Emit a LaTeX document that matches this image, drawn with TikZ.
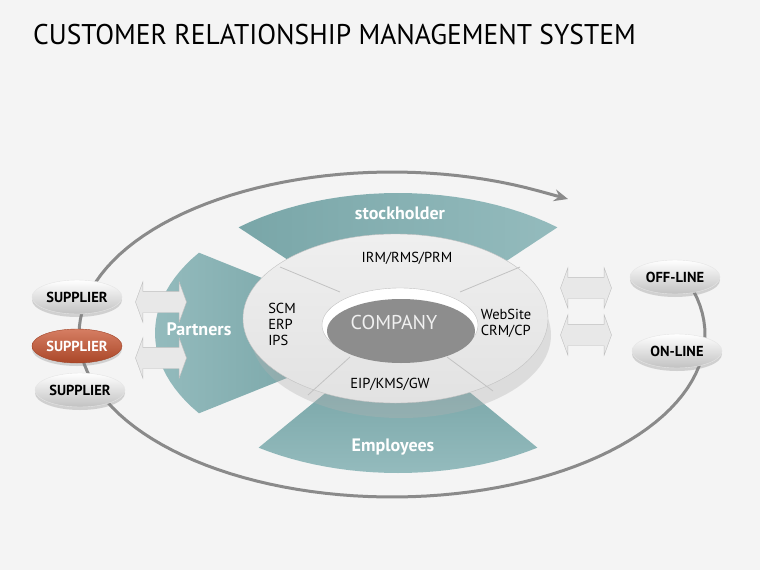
\documentclass[tikz,border=0pt]{standalone}
\usepackage{fontspec}
\setmainfont{PT Sans}
\newfontfamily\titlefont[FakeStretch=0.965]{PT Sans}
\usetikzlibrary{arrows.meta,positioning,shapes.geometric,shapes.arrows,shadows}
\definecolor{Paper}{HTML}{F4F4F4}
\definecolor{TealDark}{HTML}{79A6A8}
\definecolor{TealLight}{HTML}{94BBBD}
\definecolor{Ring}{HTML}{E2E2E2}
\definecolor{RingLine}{HTML}{C2C2C2}
\definecolor{Core}{HTML}{8D8D8D}
\definecolor{Loop}{HTML}{8A8A8A}
\definecolor{Rust}{HTML}{C8532F}

\begin{document}
\begin{tikzpicture}[x=1pt,y=-1pt,
pill/.style={ellipse,inner sep=0pt,minimum width=90pt,minimum height=34pt,top color=white,bottom color=black!24,draw=black!10,font=\bfseries\fontsize{14.5}{16}\selectfont,drop shadow={shadow xshift=0pt,shadow yshift=-3pt,opacity=.3}},
hot/.style={pill,top color=Rust!75!white,bottom color=Rust!85!black,draw=Rust!80!black,text=white},
dbl/.style={double arrow,draw=black!25,fill=black!9,minimum height=51pt,inner xsep=0pt,inner ysep=10.5pt,double arrow head extend=9.5pt,double arrow tip angle=140},
bandtxt/.style={text=white,font=\bfseries\fontsize{18}{20}\selectfont},
ringtxt/.style={font=\fontsize{14.5}{16}\selectfont,align=left,inner sep=0pt},
loop/.style={line width=3pt,draw=Loop,-{Stealth[length=14pt,width=12pt,inset=5pt]}}]
\useasboundingbox (0,0) rectangle (760,570);
\fill[Paper] (0,0) rectangle (760,570);
\node[anchor=base west,inner sep=0pt,font=\titlefont\fontsize{28.5}{30}\selectfont] (title) at (33,44) {CUSTOMER RELATIONSHIP MANAGEMENT SYSTEM};
\coordinate (loopend) at (568,199);
\draw[loop] plot[domain=-21:298,samples=120,variable=\t] ({392+313*cos(\t)},{334.5+162.5*sin(\t)}) -- (loopend);
\shade[left color=TealDark,right color=TealLight] plot[domain=-131:-49,variable=\t] ({398+243*cos(\t)},{333+140*sin(\t)}) -- plot[domain=-49:-131,variable=\t] ({398+100*cos(\t)},{333+58*sin(\t)}) -- cycle;
\shade[left color=TealLight,right color=TealDark] plot[domain=145:215,variable=\t] ({398+243*cos(\t)},{333+140*sin(\t)}) -- plot[domain=215:145,variable=\t] ({398+100*cos(\t)},{333+58*sin(\t)}) -- cycle;
\shade[top color=TealDark,bottom color=TealLight] plot[domain=55:125,variable=\t] ({398+243*cos(\t)},{333+140*sin(\t)}) -- plot[domain=125:55,variable=\t] ({398+100*cos(\t)},{333+58*sin(\t)}) -- cycle;
\fill[black!30,opacity=.35] (401,335) ellipse [x radius=150,y radius=83];
\shade[draw=RingLine,top color=Ring!55!white,bottom color=Ring] (395.5,318.5) ellipse [x radius=152.5,y radius=84.5];
\draw[RingLine,line width=.8pt] (280,267) -- (340,292) (460,292) -- (520,267) (350,357) -- (308,395) (447,357) -- (493,391);
\draw[fill=white,draw=RingLine] (400,325) ellipse [x radius=78,y radius=37];
\fill[Core] (401,331) ellipse [x radius=74,y radius=32];
\node[bandtxt] (stock) at (400,213) {stockholder};
\node[bandtxt] (partners) at (199,329) {Partners};
\node[bandtxt] (employees) at (393,447) {Employees};
\node[font=\fontsize{20}{22}\selectfont,text=black!6] (company) at (394,322) {COMPANY};
\node[ringtxt] (irm) at (407,258) {IRM/RMS/PRM};
\node[ringtxt] (scm) at (282,324) {SCM\\ERP\\IPS};
\node[ringtxt] (web) at (506,323) {WebSite\\CRM/CP};
\node[ringtxt] (eip) at (390,384) {EIP/KMS/GW};
\node[dbl] (arrl1) at (161,302) {};
\node[dbl] (arrl2) at (161,358) {};
\node[dbl] (arrr1) at (586,288) {};
\node[dbl] (arrr2) at (586,335) {};
\node[pill] (sup1) at (77,297) {SUPPLIER};
\node[hot] (sup2) at (77,346) {SUPPLIER};
\node[pill] (sup3) at (80,390) {SUPPLIER};
\node[pill] (offline) at (675,277) {OFF-LINE};
\node[pill] (online) at (677,351) {ON-LINE};
\end{tikzpicture}
\end{document}
